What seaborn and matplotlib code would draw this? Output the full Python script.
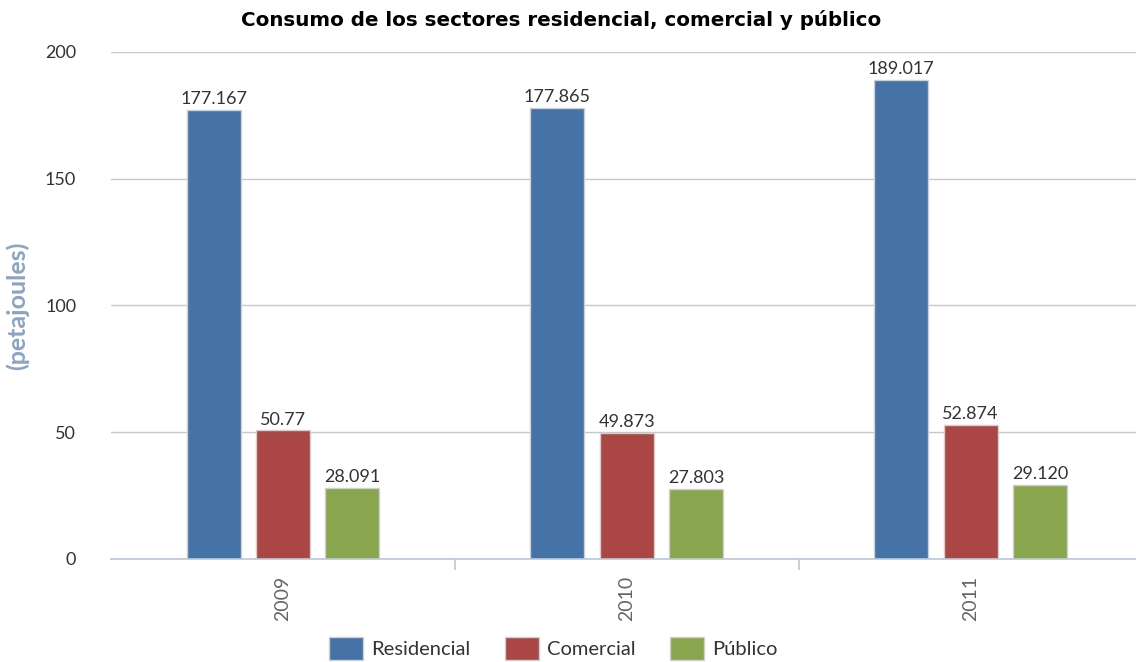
import matplotlib
matplotlib.use("Agg")
import matplotlib.pyplot as plt
import seaborn as sns
import pandas as pd

years = ["2009", "2010", "2011"]
series = ["Residencial", "Comercial", "Público"]
residencial = [177.167, 177.865, 189.017]
comercial = [50.77, 49.873, 52.874]
publico = [28.091, 27.803, 29.120]
label_res = ["177.167", "177.865", "189.017"]
label_com = ["50.77", "49.873", "52.874"]
label_pub = ["28.091", "27.803", "29.120"]
colors = ["#4572a7", "#aa4643", "#89a54e"]

rows = []
for vals, name in zip([residencial, comercial, publico], series):
    for y, v in zip(years, vals):
        rows.append({"year": y, "serie": name, "valor": v})
df = pd.DataFrame(rows)

sns.set_theme(style="white")
plt.rcParams['font.family'] = ['Lato', 'DejaVu Sans']

fig = plt.figure(figsize=(11.36, 6.62), dpi=100)
ax = fig.add_axes([0.0977, 0.1556, 0.908, 0.7659])

sns.barplot(data=df, x="year", y="valor", hue="serie", order=years, hue_order=series,
            palette=colors, width=0.605, gap=0.22, ax=ax, saturation=1,
            edgecolor="#d0d0d0", linewidth=1.0, legend=True)

ax.set_ylim(0, 200)
ax.set_xlim(-0.5, 2.5)
ax.set_yticks([0, 50, 100, 150, 200])
ax.yaxis.grid(True, color="#c8c8c8", linewidth=1)
ax.set_axisbelow(True)
for s in ["top", "right", "left"]:
    ax.spines[s].set_visible(False)
ax.spines["bottom"].set_color("#b8c8dc")
ax.spines["bottom"].set_linewidth(1.2)

ax.tick_params(axis="y", length=0, pad=25, labelsize=13, labelcolor="#333333")
ax.set_xticks([0, 1, 2])
ax.set_xticklabels(years, rotation=90, fontsize=14, color="#666666")
ax.tick_params(axis="x", length=0, pad=12)
# category separator ticks
ax.set_xticks([0.5, 1.5], minor=True)
ax.tick_params(axis="x", which="minor", bottom=True, length=8, color="#b8c8dc", width=1.2,
               direction="out")

ax.set_xlabel("")
ax.set_ylabel("(petajoules)", fontsize=18, fontweight="bold", color="#8aa4c2")
ax.yaxis.set_label_coords(-0.079, 0.5)

for cont, labs in zip(ax.containers, [label_res, label_com, label_pub]):
    ax.bar_label(cont, labels=labs, padding=2, fontsize=13, color="#333333")

fig.suptitle("Consumo de los sectores residencial, comercial y público", x=0.494, y=0.985,
             fontsize=14.3, fontweight="bold", color="#000000", family=["DejaVu Sans"])

handles, lbls = ax.get_legend_handles_labels()
ax.legend(handles, lbls, loc="lower center", bbox_to_anchor=(0.429, -0.235), ncol=3,
          frameon=False, fontsize=14.5, handlelength=1.7, handleheight=1.4, columnspacing=1.7,
          handletextpad=0.4, labelcolor="#333333")

fig.savefig("out.png", dpi=100)
